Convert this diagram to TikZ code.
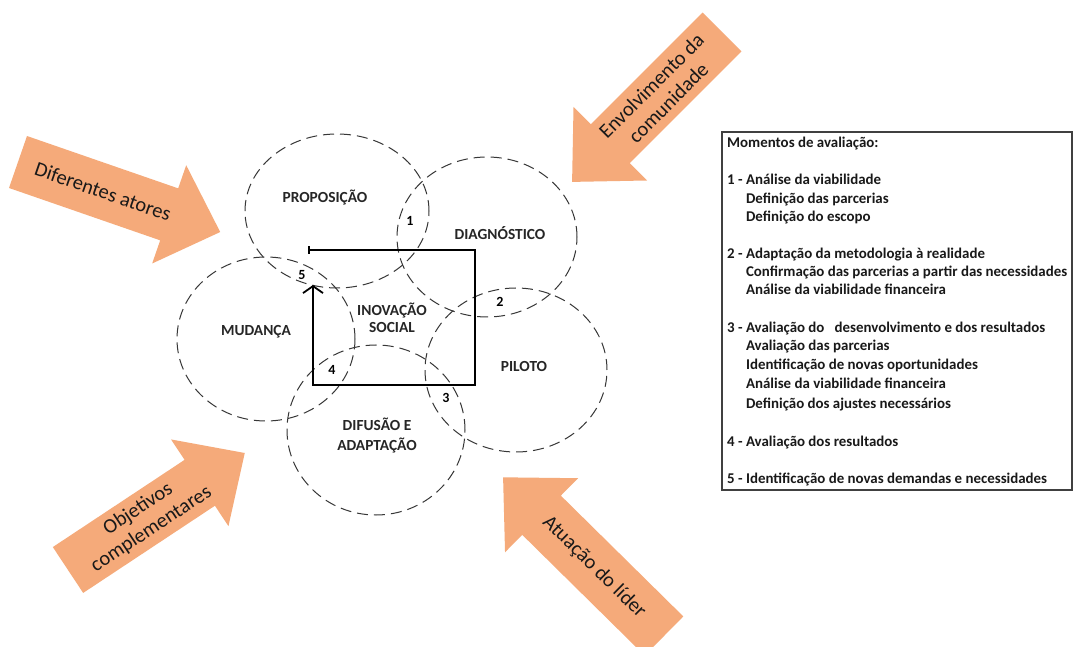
\documentclass[tikz,border=0pt]{standalone}
\usepackage{fontspec}
\setmainfont{Carlito}
\usetikzlibrary{arrows.meta}
\definecolor{peach}{RGB}{245,170,122}
\definecolor{dashgray}{RGB}{55,55,55}
\tikzset{
  phase/.style={draw=dashgray, line width=1pt, dash pattern=on 11pt off 6pt},
  phaselabel/.style={font=\bfseries\fontsize{15.4}{17}\selectfont, text=black!85, align=center, inner sep=0pt},
  numlabel/.style={font=\bfseries\fontsize{14}{16}\selectfont, inner sep=0pt},
  flow/.style={line width=1.8pt, black},
  arrowtext/.style={font=\fontsize{20.5}{24}\selectfont, align=center, inner sep=0pt, text=black!90},
  boxline/.style={font=\bfseries\fontsize{14.9}{17}\selectfont, anchor=base west, inner sep=0pt, text=black!90},
}
\newcommand{\peacharrow}[1]{\fill[peach] (0,-27.5) -- ({#1-54},-27.5) -- ({#1-54},-52) -- (#1,0) -- ({#1-54},52) -- ({#1-54},27.5) -- (0,27.5) -- cycle;}
\begin{document}
\begin{tikzpicture}[x=1pt,y=1pt]
\useasboundingbox[fill=white] (0,0) rectangle (1074,646);

% orange arrows
\begin{scope}[shift={(18,484)}, rotate=-19.1]
  \peacharrow{214}
  \node[arrowtext, rotate=-19.1] (a1) at (90,0) {Diferentes atores};
\end{scope}
\begin{scope}[shift={(722,614)}, rotate=-135]
  \peacharrow{212}
  \node[arrowtext, rotate=45] (a2) at (88,0) {Envolvimento da\\comunidade};
\end{scope}
\begin{scope}[shift={(68,76)}, rotate=33.5]
  \peacharrow{212}
  \node[arrowtext, rotate=33.5] (a3) at (92,0) {Objetivos\\complementares};
\end{scope}
\begin{scope}[shift={(664,10)}, rotate=135.4]
  \peacharrow{226}
  \node[arrowtext, rotate=-44.6] (a4) at (98,0) {Atuação do líder};
\end{scope}

% dashed phase circles
\draw[phase] (337,435) ellipse [x radius=92, y radius=77];
\draw[phase] (487,409) ellipse [x radius=90, y radius=80];
\draw[phase] (266,307) ellipse [x radius=89, y radius=82];
\draw[phase] (516,276) ellipse [x radius=91, y radius=82];
\draw[phase] (376,216) ellipse [x radius=89, y radius=85];

% phase labels
\node[phaselabel] (prop) at (325,448) {PROPOSIÇÃO};
\node[phaselabel] (diag) at (500,413) {DIAGNÓSTICO};
\node[phaselabel] (mud) at (256,314) {MUDANÇA};
\node[phaselabel] (inov) at (392,328) {INOVAÇÃO\\SOCIAL};
\node[phaselabel] (pil) at (524,279) {PILOTO};
\node[phaselabel] (dif) at (377,210) {DIFUSÃO E\\[3pt]ADAPTAÇÃO};

% numbers
\node[numlabel] (n1) at (410,425) {1};
\node[numlabel] (n2) at (500,344) {2};
\node[numlabel] (n3) at (446,248) {3};
\node[numlabel] (n4) at (332,276) {4};
\node[numlabel] (n5) at (302,371) {5};

% evaluation flow
\coordinate (fs) at (308,396);
\coordinate (fc1) at (475,396);
\coordinate (fc2) at (475,261);
\coordinate (fc3) at (313,261);
\coordinate (fe) at (313,361);
\draw[flow, {Bar[width=8pt]}-{Straight Barb[length=7pt,width=20pt]}] (fs) -- (fc1) -- (fc2) -- (fc3) -- (fe);

% legend box
\draw[line width=1.1pt, black!75] (722,514) rectangle (1072,156);
\foreach \yy/\tx [count=\i] in {
  143/{Momentos de avaliação:},
  180/{1 - Análise da viabilidade},
  199/{\phantom{1 - }Definição das parcerias},
  217/{\phantom{1 - }Definição do escopo},
  254/{2 - Adaptação da metodologia à realidade},
  272/{\phantom{2 - }Confirmação das parcerias a partir das necessidades},
  290/{\phantom{2 - }Análise da viabilidade financeira},
  328/{3 - Avaliação do \ \ desenvolvimento e dos resultados},
  346/{\phantom{3 - }Avaliação das parcerias},
  365/{\phantom{3 - }Identificação de novas oportunidades},
  384/{\phantom{3 - }Análise da viabilidade financeira},
  404/{\phantom{3 - }Definição dos ajustes necessários},
  441/{4 - Avaliação dos resultados},
  478/{5 - Identificação de novas demandas e necessidades}}
{
  \node[boxline] (l\i) at (727,{646-\yy-5}) {\tx};
}
\end{tikzpicture}
\end{document}
